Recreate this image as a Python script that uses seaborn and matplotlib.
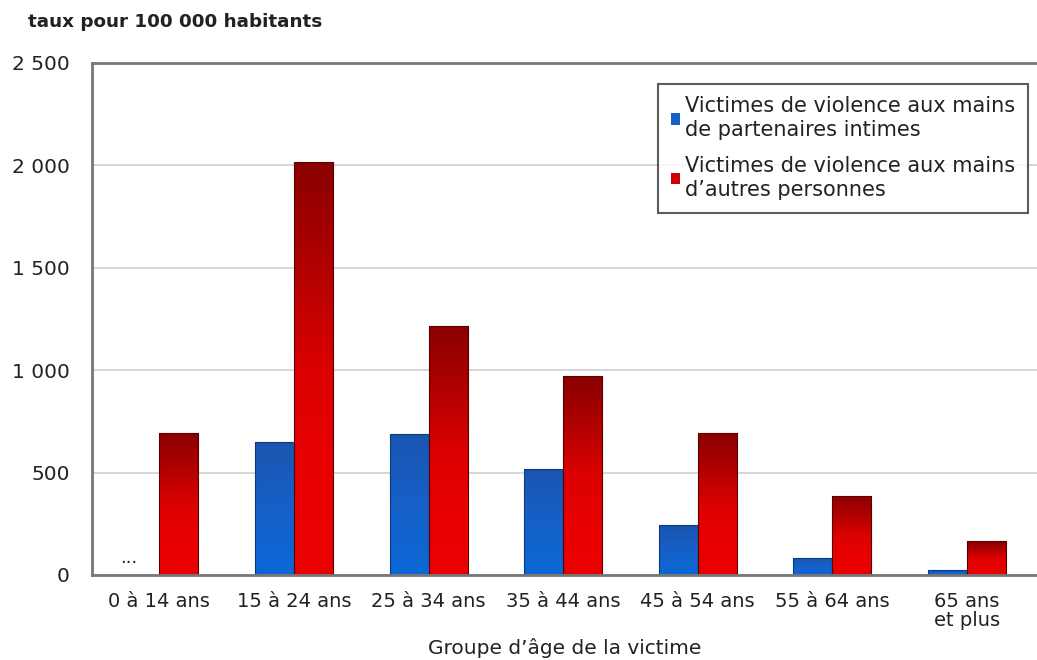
import numpy as np
import pandas as pd
import matplotlib
matplotlib.use("Agg")
import matplotlib.pyplot as plt
from matplotlib.colors import LinearSegmentedColormap
import seaborn as sns

categories = ["0 à 14 ans", "15 à 24 ans", "25 à 34 ans", "35 à 44 ans",
              "45 à 54 ans", "55 à 64 ans", "65 ans\net plus"]
series_names = ["Victimes de violence aux mains\nde partenaires intimes",
                "Victimes de violence aux mains\nd\u2019autres personnes"]
intimes = [np.nan, 650, 688, 518, 244, 85, 22]
autres = [695, 2015, 1215, 972, 693, 386, 166]
yticks = [0, 500, 1000, 1500, 2000, 2500]
ytick_labels = ["0", "500", "1 000", "1 500", "2 000", "2 500"]

sns.set_theme(style="white")
plt.rcParams["font.family"] = ["DejaVu Sans"]

df = pd.DataFrame({
    "cat": categories * 2,
    "serie": [series_names[0]] * 7 + [series_names[1]] * 7,
    "val": intimes + autres,
})

fig = plt.figure(figsize=(10.37, 6.6), dpi=100)
ax = fig.add_axes([92 / 1037, 85 / 660, 945 / 1037, 512 / 660])

blue = "#1660C8"
red = "#D00000"
sns.barplot(data=df, x="cat", y="val", hue="serie", order=categories,
            hue_order=series_names, palette=[blue, red], width=0.58,
            ax=ax, saturation=1, edgecolor="none", linewidth=0)

# gradient fill on bars
red_cmap = LinearSegmentedColormap.from_list("r", ["#8A0000", "#B00000", "#DC0000", "#E80000", "#EA0000"])
blue_cmap = LinearSegmentedColormap.from_list("b", ["#1A55B0", "#1660C8", "#0A68D6"])
grad = np.linspace(0, 1, 256).reshape(-1, 1)
for cont, cmap, edge in zip(ax.containers, [blue_cmap, red_cmap], ["#0c3a80", "#5a0000"]):
    for p in cont:
        h = p.get_height()
        if not np.isfinite(h) or h <= 0:
            continue
        x0, w = p.get_x(), p.get_width()
        im = ax.imshow(grad, cmap=cmap, aspect="auto", origin="upper",
                       extent=[x0, x0 + w, 0, h], zorder=p.get_zorder() + 0.1)
        im.set_clip_path(p)
        p.set_edgecolor(edge)
        p.set_linewidth(0.8)
        p.set_fill(False)
        p.set_zorder(p.get_zorder() + 0.2)

ax.set_xlim(-0.5, 6.52)
ax.set_ylim(0, 2500)
ax.set_yticks(yticks)
ax.set_yticklabels(ytick_labels, fontsize=14.5, color="#222222")
ax.tick_params(axis="x", length=0, labelsize=14, labelcolor="#222222", pad=12)
ax.tick_params(axis="y", length=0, pad=16)
ax.set_xticks(range(7))
ax.set_xticklabels(categories, linespacing=1.0)
ax.set_xticks(np.arange(0.5, 6.5, 1), minor=True)
ax.tick_params(axis="x", which="minor", length=5, width=1.2, color="#777777", direction="out")
ax.yaxis.grid(True, color="#d0d0d0", lw=1.2)
ax.set_axisbelow(True)
ax.set_xlabel("Groupe d\u2019âge de la victime", fontsize=14.5, color="#222222", labelpad=6)
ax.set_ylabel("")
for s in ["left", "top", "bottom"]:
    ax.spines[s].set_color("#777777")
    ax.spines[s].set_linewidth(2)
ax.spines["right"].set_visible(False)

ax.text(0 - 0.29, 40, "...", ha="left", va="bottom", fontsize=13, color="#222222")

fig.text(28 / 1037, 1 - 22 / 660, "taux pour 100 000 habitants", fontsize=13.2,
         fontweight="bold", color="#222222", va="center", ha="left")

leg = ax.legend(loc="upper right", bbox_to_anchor=((1028 - 92) / 945, 1 - 21 / 512),
                fontsize=15, frameon=True, fancybox=False, edgecolor="#333333",
                handlelength=0.45, handleheight=0.45, handletextpad=0.25,
                labelspacing=0.75, borderpad=0.6, borderaxespad=0)
leg.get_frame().set_linewidth(1.5)
for t in leg.get_texts():
    t.set_color("#222222")
    t.set_linespacing(1.25)

fig.savefig("out.png", dpi=100)
